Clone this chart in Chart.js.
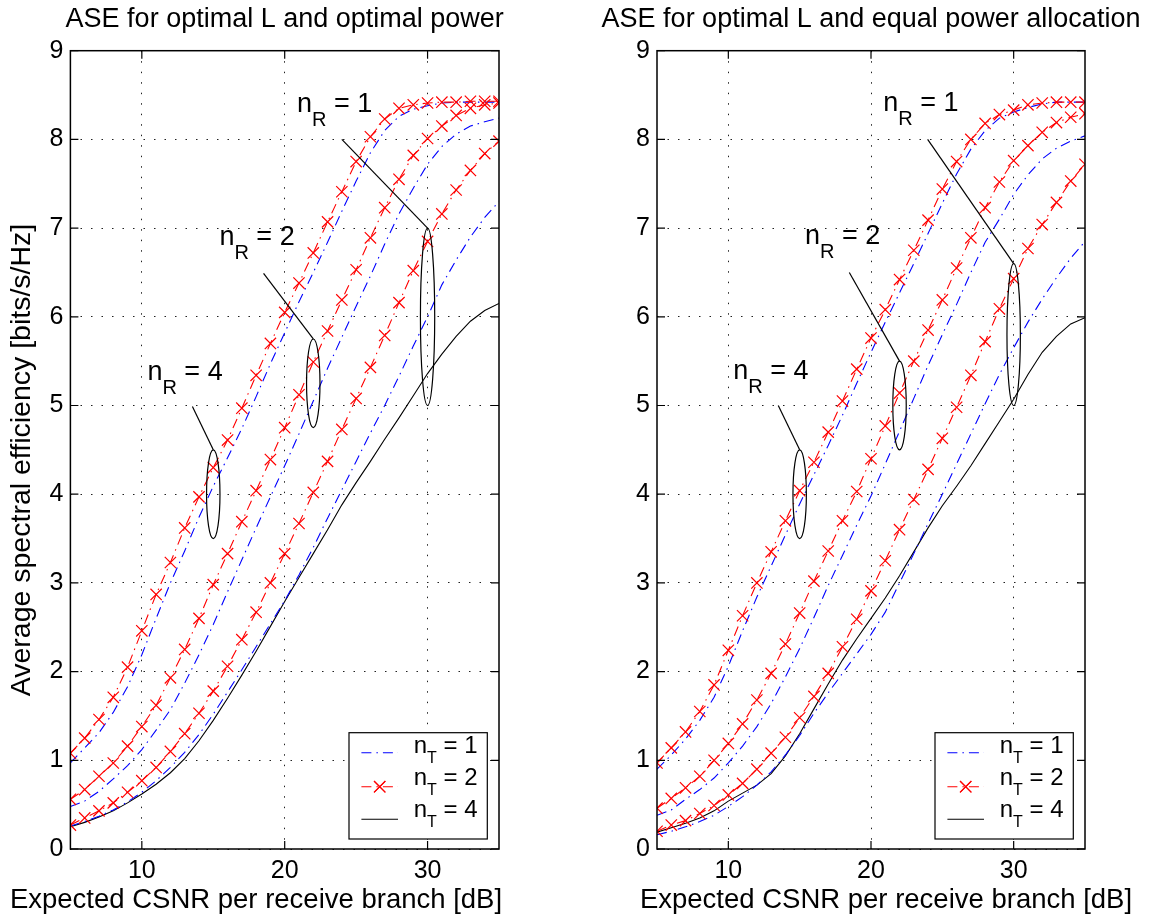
<!DOCTYPE html>
<html>
<head>
<meta charset="utf-8">
<script src="https://cdn.jsdelivr.net/npm/chart.js@4.4.1/dist/chart.umd.min.js"></script>
<style>
  body { margin: 0; background: #fff; }
  .panel { position: absolute; top: 0; }
</style>
</head>
<body>
<canvas id="optPower" class="panel" style="left:0" width="577" height="920"></canvas>
<canvas id="eqPower" class="panel" style="left:577px" width="577" height="920"></canvas>
<script>
// x values (expected CSNR per receive branch, dB)
var snr = [5, 6, 7, 8, 9, 10, 11, 12, 13, 14, 15, 16, 17, 18, 19, 20,
           21, 22, 23, 24, 25, 26, 27, 28, 29, 30, 31, 32, 33, 34, 35];
var xTicks = [10, 20, 30];
var yTicks = [0, 1, 2, 3, 4, 5, 6, 7, 8, 9];

// left panel: optimal L and optimal power
var optR4T2 = [1.08, 1.25, 1.46, 1.71, 2.05, 2.46, 2.87, 3.23, 3.62, 3.97, 4.30, 4.61, 4.97, 5.34, 5.70, 6.05,
               6.38, 6.72, 7.07, 7.41, 7.75, 8.03, 8.23, 8.35, 8.39, 8.41, 8.42, 8.42, 8.43, 8.43, 8.43];
var optR4T1 = [0.97, 1.14, 1.31, 1.54, 1.83, 2.19, 2.60, 3.00, 3.36, 3.74, 4.09, 4.41, 4.74, 5.10, 5.47, 5.82,
               6.17, 6.50, 6.84, 7.19, 7.53, 7.85, 8.10, 8.26, 8.34, 8.38, 8.41, 8.42, 8.42, 8.42, 8.42];
var optR2T2 = [0.56, 0.67, 0.82, 0.97, 1.16, 1.38, 1.62, 1.93, 2.25, 2.60, 2.98, 3.33, 3.69, 4.04, 4.39, 4.75,
               5.12, 5.49, 5.84, 6.19, 6.53, 6.89, 7.23, 7.55, 7.82, 8.01, 8.15, 8.27, 8.35, 8.39, 8.41];
var optR2T1 = [0.48, 0.54, 0.65, 0.79, 0.94, 1.12, 1.34, 1.57, 1.87, 2.19, 2.53, 2.90, 3.26, 3.62, 3.97, 4.32,
               4.68, 5.05, 5.42, 5.77, 6.12, 6.46, 6.82, 7.16, 7.45, 7.72, 7.92, 8.06, 8.15, 8.20, 8.24];
var optR1T2 = [0.27, 0.35, 0.43, 0.52, 0.64, 0.77, 0.92, 1.10, 1.30, 1.53, 1.78, 2.06, 2.36, 2.67, 3.00, 3.33,
               3.67, 4.02, 4.37, 4.73, 5.08, 5.43, 5.79, 6.16, 6.52, 6.85, 7.16, 7.43, 7.65, 7.84, 7.98];
var optR1T1 = [0.26, 0.31, 0.37, 0.44, 0.53, 0.64, 0.77, 0.92, 1.09, 1.29, 1.52, 1.77, 2.02, 2.28, 2.54, 2.80,
               3.09, 3.40, 3.73, 4.05, 4.37, 4.69, 5.00, 5.33, 5.67, 6.00, 6.36, 6.64, 6.90, 7.12, 7.30];
var optR1T4 = [0.25, 0.30, 0.36, 0.43, 0.52, 0.62, 0.73, 0.86, 1.02, 1.22, 1.45, 1.70, 1.96, 2.23, 2.51, 2.79,
               3.06, 3.33, 3.60, 3.88, 4.13, 4.37, 4.62, 4.86, 5.11, 5.36, 5.58, 5.78, 5.95, 6.07, 6.15];

// right panel: optimal L and equal power allocation
var eqR4T2 = [0.97, 1.14, 1.32, 1.55, 1.85, 2.24, 2.63, 3.00, 3.35, 3.70, 4.04, 4.36, 4.70, 5.05, 5.41, 5.76,
              6.08, 6.42, 6.75, 7.09, 7.44, 7.75, 8.00, 8.18, 8.28, 8.33, 8.39, 8.41, 8.42, 8.42, 8.42];
var eqR4T1 = [0.90, 1.06, 1.24, 1.45, 1.71, 2.06, 2.46, 2.84, 3.19, 3.54, 3.89, 4.22, 4.55, 4.89, 5.25, 5.60,
              5.94, 6.27, 6.60, 6.94, 7.28, 7.61, 7.89, 8.10, 8.24, 8.31, 8.36, 8.40, 8.42, 8.42, 8.42];
var eqR2T2 = [0.46, 0.57, 0.69, 0.82, 1.00, 1.19, 1.41, 1.68, 1.98, 2.31, 2.66, 3.02, 3.36, 3.70, 4.03, 4.40,
              4.77, 5.14, 5.50, 5.85, 6.19, 6.55, 6.89, 7.23, 7.52, 7.76, 7.93, 8.08, 8.19, 8.25, 8.29];
var eqR2T1 = [0.38, 0.44, 0.56, 0.67, 0.80, 0.97, 1.16, 1.38, 1.64, 1.94, 2.26, 2.61, 2.97, 3.31, 3.65, 3.98,
              4.34, 4.71, 5.08, 5.45, 5.80, 6.14, 6.50, 6.84, 7.10, 7.38, 7.60, 7.78, 7.90, 7.98, 8.04];
var eqR1T2 = [0.20, 0.27, 0.32, 0.40, 0.49, 0.61, 0.74, 0.90, 1.08, 1.26, 1.48, 1.72, 1.98, 2.28, 2.59, 2.91,
              3.25, 3.60, 3.94, 4.28, 4.63, 4.98, 5.34, 5.72, 6.09, 6.43, 6.77, 7.04, 7.29, 7.53, 7.72];
var eqR1T1 = [0.16, 0.20, 0.25, 0.31, 0.38, 0.48, 0.59, 0.72, 0.87, 1.06, 1.28, 1.53, 1.76, 1.98, 2.20, 2.42,
              2.67, 3.00, 3.33, 3.67, 4.00, 4.34, 4.68, 5.02, 5.35, 5.65, 5.94, 6.20, 6.44, 6.66, 6.85];
var eqR1T4 = [0.19, 0.24, 0.29, 0.35, 0.43, 0.54, 0.63, 0.72, 0.85, 1.05, 1.30, 1.58, 1.86, 2.13, 2.37, 2.60,
              2.83, 3.08, 3.35, 3.62, 3.87, 4.09, 4.32, 4.57, 4.82, 5.07, 5.35, 5.60, 5.78, 5.92, 5.99];

// ellipse call-outs (data coordinates)
var optNotes = [
  { nR: 1, text: [20.86, 8.31], from: [24.0, 8.0], at: [30, 6.0], rx: 0.5, ry: 1.0 },
  { nR: 2, text: [15.43, 6.81], from: [18.52, 6.49], at: [22, 5.25], rx: 0.47, ry: 0.5 },
  { nR: 4, text: [10.39, 5.29], from: [13.54, 4.99], at: [15, 4.0], rx: 0.47, ry: 0.5 }
];
var eqNotes = [
  { nR: 1, text: [20.86, 8.32], from: [23.97, 8.0], at: [30, 5.8], rx: 0.47, ry: 0.8 },
  { nR: 2, text: [15.37, 6.82], from: [18.48, 6.5], at: [22, 5.0], rx: 0.47, ry: 0.5 },
  { nR: 4, text: [10.35, 5.30], from: [13.5, 5.0], at: [15, 4.0], rx: 0.47, ry: 0.5 }
];

var FONT = '"Liberation Sans", Arial, Helvetica, sans-serif';
var dashDot = [10, 5, 1.5, 5];
var xLabel = 'Expected CSNR per receive branch [dB]';
var yLabel = 'Average spectral efficiency [bits/s/Hz]';

var styleT1 = { borderColor: '#0000ff', borderDash: dashDot, pointRadius: 0 };
var styleT2 = { borderColor: '#ff0000', borderDash: dashDot, pointStyle: 'crossRot', pointRadius: 8,
                pointBorderColor: '#ff0000', pointBorderWidth: 1.2 };
var styleT4 = { borderColor: '#000000', borderDash: [], pointRadius: 0 };
var legendRows = [['1', styleT1], ['2', styleT2], ['4', styleT4]];

function series(vals, style) {
  return Object.assign({
    data: snr.map(function (x, i) { return { x: x, y: vals[i] }; }),
    borderWidth: 1.1,
    fill: false,
    tension: 0
  }, style);
}

function subText(ctx, x, y, sub, rest, size, subSize, drop) {
  ctx.font = size + 'px ' + FONT;
  ctx.fillText('n', x, y);
  var cx = x + ctx.measureText('n').width;
  ctx.font = subSize + 'px ' + FONT;
  ctx.fillText(sub, cx, y + drop);
  cx += ctx.measureText(sub).width;
  ctx.font = size + 'px ' + FONT;
  ctx.fillText(rest, cx, y);
}

var decorations = {
  id: 'decorations',
  afterDraw: function (chart, args, opts) {
    var ctx = chart.ctx, a = chart.chartArea;
    var xs = chart.scales.x, ys = chart.scales.y;
    ctx.save();
    ctx.fillStyle = '#000';
    ctx.strokeStyle = '#000';
    ctx.setLineDash([]);

    // title and axis labels
    ctx.font = '27px ' + FONT;
    ctx.textAlign = 'center';
    ctx.textBaseline = 'middle';
    ctx.fillText(opts.title, (a.left + a.right) / 2, 20);
    ctx.font = '27.5px ' + FONT;
    ctx.fillText(xLabel, opts.xLabelX, 900);
    if (opts.yLabel) {
      ctx.save();
      ctx.translate(22, 460);
      ctx.rotate(-Math.PI / 2);
      ctx.font = '28.5px ' + FONT;
      ctx.fillText(yLabel, 0, 0);
      ctx.restore();
    }

    // call-outs
    ctx.textAlign = 'left';
    ctx.textBaseline = 'alphabetic';
    ctx.lineWidth = 1.2;
    opts.notes.forEach(function (n) {
      var cx = xs.getPixelForValue(n.at[0]);
      var cy = ys.getPixelForValue(n.at[1]);
      var rx = xs.getPixelForValue(n.at[0] + n.rx) - cx;
      var ry = cy - ys.getPixelForValue(n.at[1] + n.ry);
      ctx.beginPath();
      ctx.ellipse(cx, cy, rx, ry, 0, 0, Math.PI * 2);
      ctx.stroke();
      ctx.beginPath();
      ctx.moveTo(xs.getPixelForValue(n.from[0]), ys.getPixelForValue(n.from[1]));
      ctx.lineTo(cx, cy - ry);
      ctx.stroke();
      subText(ctx, xs.getPixelForValue(n.text[0]), ys.getPixelForValue(n.text[1]),
              'R', ' = ' + n.nR, 27, 20, 14);
    });

    // axes box and inward ticks
    ctx.lineWidth = 1.5;
    ctx.strokeRect(a.left, a.top, a.right - a.left, a.bottom - a.top);
    ctx.lineWidth = 1.2;
    ctx.beginPath();
    xTicks.forEach(function (v) {
      var px = xs.getPixelForValue(v);
      ctx.moveTo(px, a.bottom); ctx.lineTo(px, a.bottom - 8);
      ctx.moveTo(px, a.top); ctx.lineTo(px, a.top + 8);
    });
    yTicks.forEach(function (v) {
      var py = ys.getPixelForValue(v);
      ctx.moveTo(a.left, py); ctx.lineTo(a.left + 8, py);
      ctx.moveTo(a.right, py); ctx.lineTo(a.right - 8, py);
    });
    ctx.stroke();

    // legend box
    var bx = a.right - 150, by = a.bottom - 116.3, bw = 138.3, bh = 106.3;
    ctx.fillStyle = '#fff';
    ctx.fillRect(bx, by, bw, bh);
    ctx.lineWidth = 1.2;
    ctx.strokeRect(bx, by, bw, bh);
    var lineY = [20, 54, 86.6], textY = [20.6, 52.3, 84];
    legendRows.forEach(function (row, i) {
      var st = row[1], y = by + lineY[i];
      ctx.strokeStyle = st.borderColor;
      ctx.lineWidth = 1.1;
      ctx.setLineDash(st.borderDash);
      ctx.beginPath();
      ctx.moveTo(bx + 12.4, y); ctx.lineTo(bx + 49, y);
      ctx.stroke();
      ctx.setLineDash([]);
      if (st.pointStyle) {
        Chart.helpers.drawPoint(ctx, { pointStyle: st.pointStyle, radius: st.pointRadius,
          borderWidth: st.pointBorderWidth }, bx + 30.7, y);
        ctx.lineWidth = st.pointBorderWidth;
        ctx.stroke();
      }
      ctx.fillStyle = '#000';
      subText(ctx, bx + 64.7, by + textY[i], 'T', ' = ' + row[0], 24, 16, 10);
    });
    ctx.restore();
  }
};

function makeChart(id, title, datasets, notes, showY, xLabelX, axisWidth, padRight) {
  return new Chart(document.getElementById(id), {
    type: 'line',
    data: { datasets: datasets },
    options: {
      responsive: false,
      animation: false,
      events: [],
      layout: { padding: { left: 0, right: padRight, top: 50.7, bottom: 0 } },
      plugins: {
        legend: { display: false },
        tooltip: { enabled: false },
        decorations: { title: title, notes: notes, yLabel: showY, xLabelX: xLabelX }
      },
      scales: {
        x: {
          type: 'linear', min: 5, max: 35,
          afterBuildTicks: function (s) { s.ticks = xTicks.map(function (v) { return { value: v }; }); },
          afterFit: function (s) { s.height = 71; },
          grid: { color: '#222', lineWidth: 1, drawTicks: false },
          border: { display: false, dash: [1.5, 9] },
          ticks: { color: '#000', padding: 7, maxRotation: 0, font: { family: FONT, size: 25 } }
        },
        y: {
          type: 'linear', min: 0, max: 9,
          afterBuildTicks: function (s) { s.ticks = yTicks.map(function (v) { return { value: v }; }); },
          afterFit: function (s) { s.width = axisWidth; },
          grid: { color: '#222', lineWidth: 1, drawTicks: false },
          border: { display: false, dash: [1.5, 9] },
          ticks: { color: '#000', padding: 7, font: { family: FONT, size: 25 } }
        }
      }
    },
    plugins: [decorations]
  });
}

makeChart('optPower', 'ASE for optimal L and optimal power', [
  series(optR4T2, styleT2), series(optR2T2, styleT2), series(optR1T2, styleT2),
  series(optR4T1, styleT1), series(optR2T1, styleT1), series(optR1T1, styleT1),
  series(optR1T4, styleT4)
], optNotes, true, 256, 70.4, 78);

makeChart('eqPower', 'ASE for optimal L and equal power allocation', [
  series(eqR4T2, styleT2), series(eqR2T2, styleT2), series(eqR1T2, styleT2),
  series(eqR4T1, styleT1), series(eqR2T1, styleT1), series(eqR1T1, styleT1),
  series(eqR1T4, styleT4)
], eqNotes, false, 309, 80, 69);
</script>
</body>
</html>
